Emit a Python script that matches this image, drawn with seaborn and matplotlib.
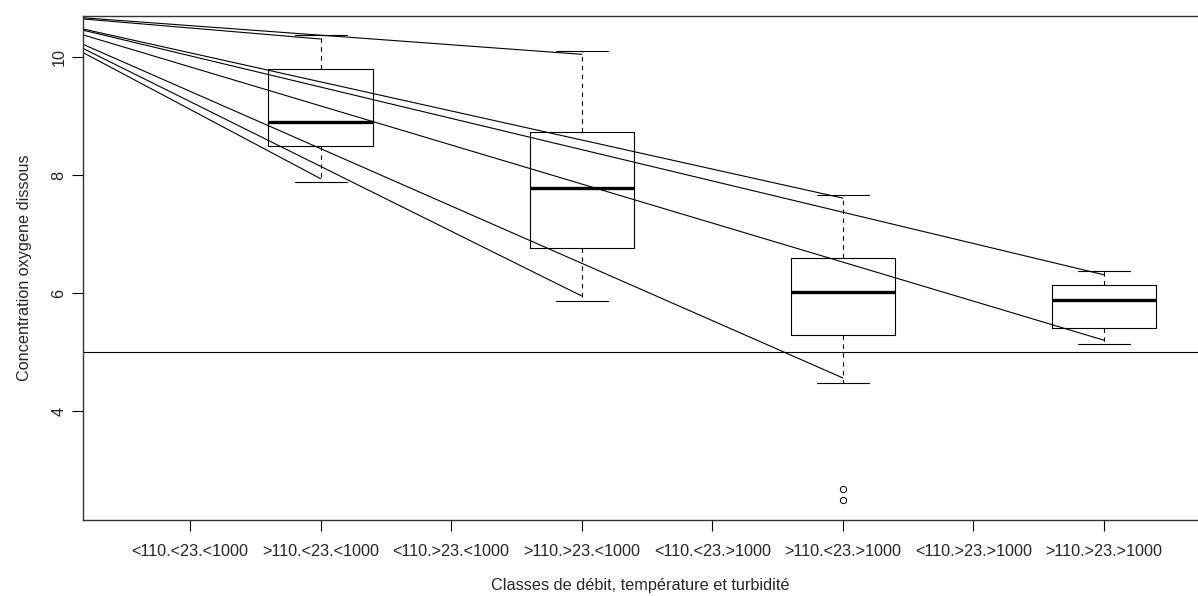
import numpy as np
import pandas as pd
import seaborn as sns
import matplotlib
matplotlib.use("Agg")
import matplotlib.pyplot as plt

# classes on the x axis (only every second one has measurements)
categories = ["<110.<23.<1000", ">110.<23.<1000", "<110.>23.<1000", ">110.>23.<1000",
              "<110.<23.>1000", ">110.<23.>1000", "<110.>23.>1000", ">110.>23.>1000"]

obs_b = [7.88, 8.50, 8.91, 9.80, 10.38]
obs_d = [5.86, 6.76, 7.78, 8.73, 10.11]
obs_f = [2.49, 2.67, 4.48, 5.28, 5.28, 6.01, 6.01, 6.01, 6.60, 6.60, 6.60, 7.67, 7.67]
obs_h = [5.14, 5.40, 5.88, 6.13, 6.38]

# straight lines from the left edge down to the whisker ends
line_class = [categories[1], categories[3], categories[5], categories[7],
              categories[7], categories[5], categories[3], categories[1]]
line_start = [10.65, 10.67, 10.48, 10.46, 10.38, 10.22, 10.15, 10.08]
line_end = [10.31, 10.05, 7.61, 6.31, 5.20, 4.56, 5.95, 7.94]

seuil = 5.0
yticks = [4, 6, 8, 10]

df = pd.concat([
    pd.DataFrame({"classe": categories[1], "o2": obs_b}),
    pd.DataFrame({"classe": categories[3], "o2": obs_d}),
    pd.DataFrame({"classe": categories[5], "o2": obs_f}),
    pd.DataFrame({"classe": categories[7], "o2": obs_h}),
])

sns.set_style("white")
plt.rcParams['font.family'] = ['Liberation Sans', 'DejaVu Sans']

fig = plt.figure(figsize=(11.98, 5.96), dpi=100)
ax = fig.add_axes([83 / 1198, 1 - 520 / 596, 1 - 83 / 1198, (520 - 16) / 596])

sns.boxplot(data=df, x="classe", y="o2", order=categories, ax=ax,
            width=0.8, fill=False, color="black", linewidth=0.8,
            boxprops=dict(color="black", linewidth=0.8),
            medianprops=dict(color="black", linewidth=2.4),
            whiskerprops=dict(color="black", linewidth=0.8, linestyle=(0, (4, 4))),
            capprops=dict(color="black", linewidth=0.8),
            flierprops=dict(marker="o", markerfacecolor="none", markeredgecolor="black",
                            markersize=4.5, markeredgewidth=0.7))

ax.set_xlim(-0.82, 7.72)
ax.set_ylim(2.15, 10.7)

x0 = ax.get_xlim()[0]
for c, s, e in zip(line_class, line_start, line_end):
    ax.plot([x0, categories.index(c)], [s, e], color="black", lw=0.8, clip_on=True)

ax.axhline(seuil, color="black", lw=0.8)

for side in ["left", "bottom", "top"]:
    ax.spines[side].set_color("#333333")
    ax.spines[side].set_linewidth(1.0)
ax.spines["right"].set_visible(False)

ax.set_yticks(yticks)
ax.set_yticklabels([str(t) for t in yticks], rotation=90, va="center")
ax.tick_params(axis="both", direction="out", length=8, width=0.8, color="black",
               labelsize=11.7, left=True, bottom=True)
ax.tick_params(axis="y", pad=4)
ax.tick_params(axis="x", pad=9)

ax.set_xlabel("Classes de débit, température et turbidité", fontsize=11.7, labelpad=14)
ax.set_ylabel("Concentration oxygene dissous", fontsize=11.7, labelpad=14)

fig.savefig("out.png", dpi=100)
